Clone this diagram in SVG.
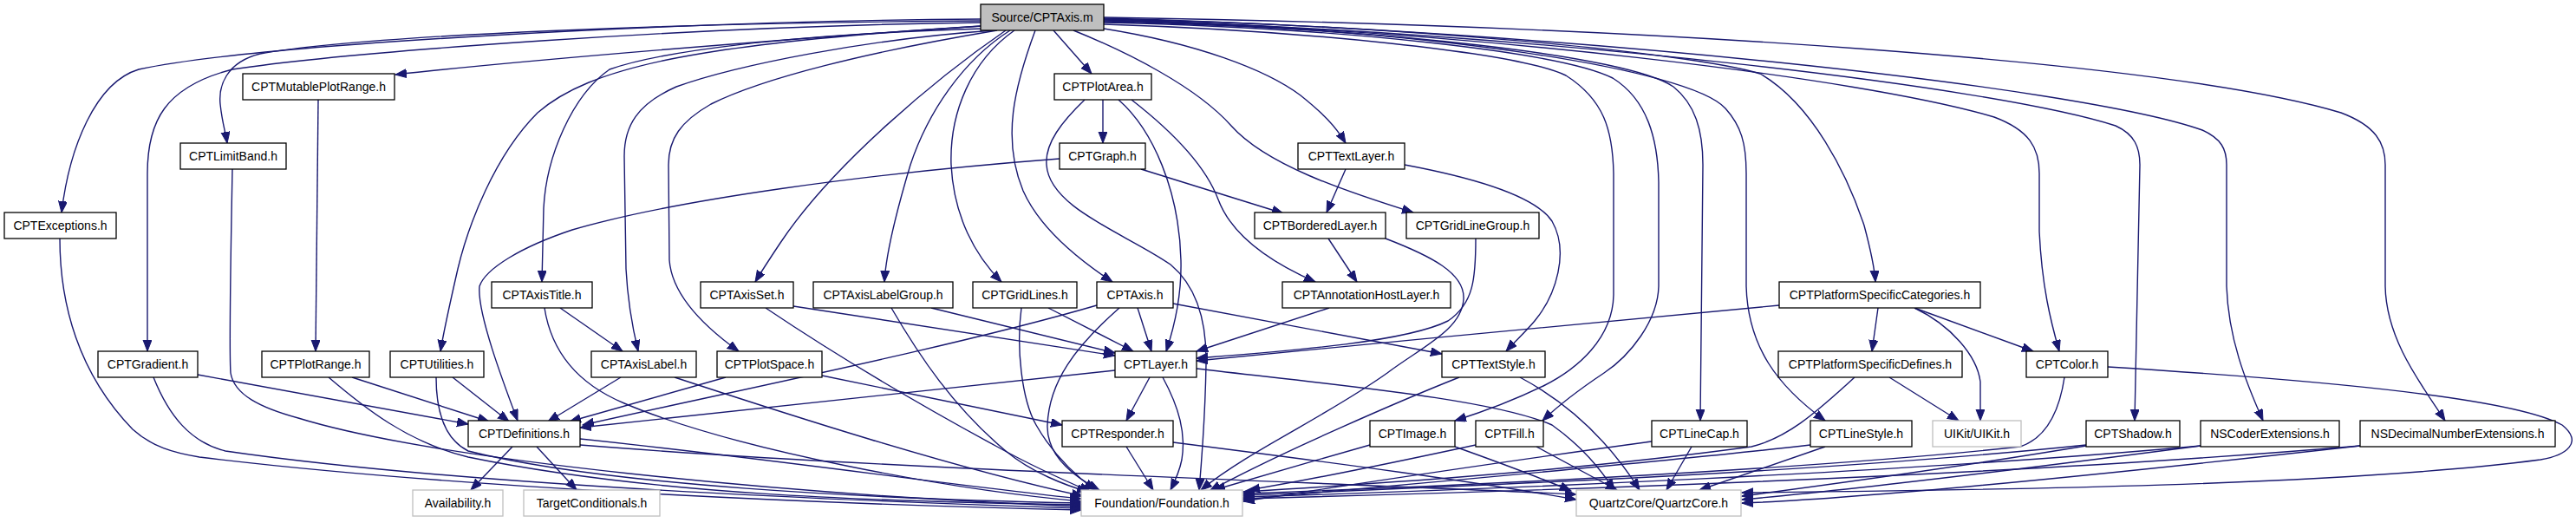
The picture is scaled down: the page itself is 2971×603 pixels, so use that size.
<svg xmlns="http://www.w3.org/2000/svg" width="2971" height="603" viewBox="0 0 2971 603">
<style>
.n rect{fill:#fff;stroke:#000;stroke-width:1.3}
.n.g rect{stroke:#bfbfbf}
.n.s rect{fill:#bfbfbf}
.n text{font-family:"Liberation Sans",Arial,sans-serif;font-size:14px;text-anchor:middle;fill:#000}
.e path{fill:none;stroke:#191970;stroke-width:1.4;marker-end:url(#ah)}
</style>
<defs>
<marker id="ah" markerUnits="userSpaceOnUse" markerWidth="14" markerHeight="11" refX="13" refY="5" orient="auto">
<path d="M0,0 L13,5 L0,10 z" fill="#191970" stroke="#191970" stroke-width="1"/>
</marker>
</defs>
<rect width="2971" height="603" fill="#fff"/>
<g class="e" id="edges">
<path d="M1131,22 C800,24 300,50 160,80 C110,95 80,170 71,245"/>
<path d="M1131,26 C800,30 400,60 268,80 C190,100 170,140 170,200 L170,405"/>
<path d="M1131,24 C800,26 420,40 300,62 C260,72 252,100 254,120 C256,140 260,152 262,165"/>
<path d="M1131,30 C900,45 600,70 456,86"/>
<path d="M1133,30 C800,50 680,78 620,130 C570,180 540,260 528,310 C520,345 512,380 508,405"/>
<path d="M1135,33 C900,40 760,60 703,80 C660,110 630,180 627,240 L625,325"/>
<path d="M1147,35 C1000,45 850,75 780,100 C735,120 720,145 720,180 L722,310 C724,350 730,380 736,405"/>
<path d="M1150,35 C1000,60 880,90 820,120 C785,140 771,160 771,190 L772,300 C775,340 810,375 852,405"/>
<path d="M1160,35 C1080,90 960,190 900,280 C890,295 880,310 871,325"/>
<path d="M1165,35 C1110,70 1070,130 1050,190 C1035,240 1022,290 1020,325"/>
<path d="M1170,35 C1120,70 1095,130 1097,190 C1100,250 1125,295 1155,325"/>
<path d="M1194,35 C1170,100 1155,160 1180,220 C1200,265 1245,300 1283,325"/>
<path d="M1215,35 L1259,85"/>
<path d="M1238,35 C1300,60 1380,100 1420,145 C1460,190 1550,220 1630,245"/>
<path d="M1273,33 C1380,50 1460,80 1500,110 C1525,130 1540,145 1552,165"/>
<path d="M1273,22 C1600,28 1950,60 2030,85 C2090,120 2130,200 2150,260 C2158,290 2162,310 2163,325"/>
<path d="M1273,23 C1700,35 2150,90 2300,135 C2340,150 2352,170 2352,200 L2352,267 C2355,330 2365,370 2375,405"/>
<path d="M1273,22 C1800,40 2300,100 2440,145 C2462,155 2468,170 2468,190 L2462,485"/>
<path d="M1273,21 C1800,35 2400,100 2540,150 C2562,160 2568,172 2568,190 L2568,330 C2570,390 2590,440 2610,485"/>
<path d="M1273,20 C1900,30 2500,70 2700,130 C2740,145 2751,165 2751,190 L2751,330 C2752,390 2790,440 2820,485"/>
<path d="M1273,28 C1500,35 1750,60 1806,87 C1850,115 1860,150 1861,200 L1861,340 C1860,390 1820,425 1780,445 C1745,462 1710,475 1678,485"/>
<path d="M1273,26 C1550,32 1800,60 1860,90 C1900,115 1912,160 1913,210 L1913,330 C1912,370 1880,410 1850,430 C1820,450 1800,465 1779,485"/>
<path d="M1273,25 C1600,32 1880,65 1930,100 C1955,120 1964,150 1964,190 L1961,485"/>
<path d="M1273,24 C1650,32 1950,80 1990,125 C2008,145 2014,165 2014,200 L2014,330 C2016,400 2050,445 2105,485"/>
<path d="M367,115 L364,405"/>
<path d="M268,195 C266,300 264,400 266,430 C270,455 300,470 344,482 C500,530 900,570 1247,584"/>
<path d="M69,275 C69,350 90,430 153,495 C175,515 200,522 230,527 C500,560 900,580 1247,588"/>
<path d="M228,432 L540,489"/>
<path d="M177,435 C195,480 220,510 260,520 C500,555 900,575 1247,586"/>
<path d="M406,435 L564,486"/>
<path d="M379,435 C420,470 470,510 540,527 C750,570 1000,578 1247,582"/>
<path d="M522,435 L587,486"/>
<path d="M503,435 C503,470 510,505 540,520 C700,560 1000,575 1247,580"/>
<path d="M1222,183 C1000,200 780,230 660,265 C600,285 560,310 553,330 C550,360 580,440 597,485"/>
<path d="M1316,195 L1480,246"/>
<path d="M1272,115 L1272,165"/>
<path d="M1290,115 C1330,150 1360,220 1362,300 C1363,340 1355,375 1345,405"/>
<path d="M1251,115 C1225,140 1205,165 1207,190 C1210,240 1300,270 1350,305 C1380,330 1392,370 1391,420 C1390,480 1386,530 1383,565"/>
<path d="M1305,115 C1350,150 1390,190 1405,230 C1420,270 1460,300 1517,325"/>
<path d="M1552,195 L1530,245"/>
<path d="M1620,190 C1700,205 1770,225 1790,255 C1810,290 1795,340 1770,370 C1760,382 1748,393 1737,405"/>
<path d="M1532,275 L1565,325"/>
<path d="M1598,275 C1650,295 1690,315 1688,345 C1686,380 1640,400 1600,430 C1530,480 1440,520 1385,565"/>
<path d="M1702,275 C1702,320 1700,350 1670,370 C1620,395 1480,405 1380,413"/>
<path d="M1533,355 L1380,405"/>
<path d="M2052,352 C1850,370 1600,395 1380,416"/>
<path d="M1312,355 L1328,405"/>
<path d="M1291,355 C1240,400 1210,440 1208,490 C1207,520 1230,545 1268,565"/>
<path d="M1353,350 L1663,408"/>
<path d="M1265,352 C1100,400 850,450 672,490"/>
<path d="M1209,355 L1307,405"/>
<path d="M1178,355 C1172,400 1178,460 1195,490 C1215,525 1240,548 1263,565"/>
<path d="M915,353 L1286,410"/>
<path d="M883,355 C950,400 1030,450 1150,515 C1195,540 1230,555 1258,567"/>
<path d="M1074,355 L1286,407"/>
<path d="M1028,355 C1060,410 1100,470 1160,520 C1190,545 1230,560 1255,567"/>
<path d="M646,355 L718,405"/>
<path d="M628,355 C635,400 660,440 720,465 C850,520 1100,565 1247,578"/>
<path d="M716,435 L632,486"/>
<path d="M778,435 C900,475 1100,540 1249,572"/>
<path d="M837,435 L657,486"/>
<path d="M948,433 L1225,490"/>
<path d="M1286,427 L669,493"/>
<path d="M1326,435 L1299,485"/>
<path d="M1341,435 C1360,470 1368,500 1363,530 C1360,545 1355,555 1350,565"/>
<path d="M1380,425 C1550,445 1720,460 1790,490 C1825,515 1845,540 1862,565"/>
<path d="M591,515 L543,565"/>
<path d="M619,515 L665,565"/>
<path d="M669,506 C900,530 1100,560 1247,575"/>
<path d="M669,513 C1000,540 1500,555 1818,570"/>
<path d="M1299,515 L1330,565"/>
<path d="M1353,510 C1550,535 1700,555 1818,576"/>
<path d="M1580,513 C1520,530 1450,550 1400,565"/>
<path d="M1678,515 C1720,530 1770,548 1812,566"/>
<path d="M1683,435 C1620,460 1480,520 1395,566"/>
<path d="M1753,435 C1800,460 1850,500 1891,565"/>
<path d="M1702,513 C1600,535 1500,555 1440,565"/>
<path d="M1772,515 L1865,565"/>
<path d="M1905,509 C1750,530 1550,560 1434,578"/>
<path d="M1951,515 L1922,565"/>
<path d="M2088,513 C1900,535 1600,560 1434,576"/>
<path d="M2105,515 L1960,565"/>
<path d="M2166,355 L2159,405"/>
<path d="M2208,355 C2250,375 2280,410 2284,440 L2284,485"/>
<path d="M2208,355 L2345,405"/>
<path d="M2179,435 L2259,485"/>
<path d="M2139,435 C2090,480 2060,505 2020,515 C1800,545 1550,560 1434,567"/>
<path d="M2381,435 C2375,475 2360,505 2330,515 C2100,540 1700,560 1434,569"/>
<path d="M2431,423 C2700,440 2900,460 2955,490 C2980,510 2960,525 2930,530 C2700,560 2300,565 2009,568"/>
<path d="M2406,513 C2100,545 1700,560 1434,571"/>
<path d="M2406,514 C2250,540 2100,560 2009,572"/>
<path d="M2538,514 C2200,545 1700,565 1434,573"/>
<path d="M2538,514 C2300,545 2100,568 2009,576"/>
<path d="M2722,514 C2300,550 1700,568 1434,575"/>
<path d="M2722,514 C2400,550 2150,575 2009,580"/>
</g>
<g class="n s" id="node-source"><rect x="1131" y="5" width="142" height="30"/><text x="1202" y="25">Source/CPTAxis.m</text></g>
<g class="n" id="node-mutableplotrange"><rect x="280" y="85" width="175" height="30"/><text x="367.5" y="105">CPTMutablePlotRange.h</text></g>
<g class="n" id="node-plotarea"><rect x="1216" y="85" width="112" height="30"/><text x="1272" y="105">CPTPlotArea.h</text></g>
<g class="n" id="node-limitband"><rect x="208" y="165" width="122" height="30"/><text x="269" y="185">CPTLimitBand.h</text></g>
<g class="n" id="node-graph"><rect x="1222" y="165" width="99" height="30"/><text x="1271.5" y="185">CPTGraph.h</text></g>
<g class="n" id="node-textlayer"><rect x="1497" y="165" width="123" height="30"/><text x="1558.5" y="185">CPTTextLayer.h</text></g>
<g class="n" id="node-exceptions"><rect x="5" y="245" width="129" height="30"/><text x="69.5" y="265">CPTExceptions.h</text></g>
<g class="n" id="node-borderedlayer"><rect x="1447" y="245" width="151" height="30"/><text x="1522.5" y="265">CPTBorderedLayer.h</text></g>
<g class="n" id="node-gridlinegroup"><rect x="1622" y="245" width="153" height="30"/><text x="1698.5" y="265">CPTGridLineGroup.h</text></g>
<g class="n" id="node-axistitle"><rect x="567" y="325" width="116" height="30"/><text x="625" y="345">CPTAxisTitle.h</text></g>
<g class="n" id="node-axisset"><rect x="808" y="325" width="107" height="30"/><text x="861.5" y="345">CPTAxisSet.h</text></g>
<g class="n" id="node-axislabelgroup"><rect x="938" y="325" width="161" height="30"/><text x="1018.5" y="345">CPTAxisLabelGroup.h</text></g>
<g class="n" id="node-gridlines"><rect x="1122" y="325" width="120" height="30"/><text x="1182" y="345">CPTGridLines.h</text></g>
<g class="n" id="node-axis"><rect x="1265" y="325" width="88" height="30"/><text x="1309" y="345">CPTAxis.h</text></g>
<g class="n" id="node-annotationhostlayer"><rect x="1479" y="325" width="194" height="30"/><text x="1576" y="345">CPTAnnotationHostLayer.h</text></g>
<g class="n" id="node-pscategories"><rect x="2052" y="325" width="232" height="30"/><text x="2168" y="345">CPTPlatformSpecificCategories.h</text></g>
<g class="n" id="node-gradient"><rect x="113" y="405" width="115" height="30"/><text x="170.5" y="425">CPTGradient.h</text></g>
<g class="n" id="node-plotrange"><rect x="302" y="405" width="124" height="30"/><text x="364" y="425">CPTPlotRange.h</text></g>
<g class="n" id="node-utilities"><rect x="450" y="405" width="108" height="30"/><text x="504" y="425">CPTUtilities.h</text></g>
<g class="n" id="node-axislabel"><rect x="682" y="405" width="121" height="30"/><text x="742.5" y="425">CPTAxisLabel.h</text></g>
<g class="n" id="node-plotspace"><rect x="827" y="405" width="121" height="30"/><text x="887.5" y="425">CPTPlotSpace.h</text></g>
<g class="n" id="node-layer"><rect x="1286" y="405" width="94" height="30"/><text x="1333" y="425">CPTLayer.h</text></g>
<g class="n" id="node-textstyle"><rect x="1663" y="405" width="119" height="30"/><text x="1722.5" y="425">CPTTextStyle.h</text></g>
<g class="n" id="node-psdefines"><rect x="2051" y="405" width="212" height="30"/><text x="2157" y="425">CPTPlatformSpecificDefines.h</text></g>
<g class="n" id="node-color"><rect x="2337" y="405" width="94" height="30"/><text x="2384" y="425">CPTColor.h</text></g>
<g class="n" id="node-definitions"><rect x="540" y="485" width="129" height="30"/><text x="604.5" y="505">CPTDefinitions.h</text></g>
<g class="n" id="node-responder"><rect x="1225" y="485" width="128" height="30"/><text x="1289" y="505">CPTResponder.h</text></g>
<g class="n" id="node-image"><rect x="1580" y="485" width="98" height="30"/><text x="1629" y="505">CPTImage.h</text></g>
<g class="n" id="node-fill"><rect x="1702" y="485" width="78" height="30"/><text x="1741" y="505">CPTFill.h</text></g>
<g class="n" id="node-linecap"><rect x="1905" y="485" width="110" height="30"/><text x="1960" y="505">CPTLineCap.h</text></g>
<g class="n" id="node-linestyle"><rect x="2088" y="485" width="117" height="30"/><text x="2146.5" y="505">CPTLineStyle.h</text></g>
<g class="n g" id="node-uikit"><rect x="2229" y="485" width="102" height="30"/><text x="2280" y="505">UIKit/UIKit.h</text></g>
<g class="n" id="node-shadow"><rect x="2406" y="485" width="108" height="30"/><text x="2460" y="505">CPTShadow.h</text></g>
<g class="n" id="node-nscoder"><rect x="2538" y="485" width="160" height="30"/><text x="2618" y="505">NSCoderExtensions.h</text></g>
<g class="n" id="node-nsdecimal"><rect x="2722" y="485" width="225" height="30"/><text x="2834.5" y="505">NSDecimalNumberExtensions.h</text></g>
<g class="n g" id="node-availability"><rect x="476" y="565" width="104" height="30"/><text x="528" y="585">Availability.h</text></g>
<g class="n g" id="node-targetconditionals"><rect x="604" y="565" width="157" height="30"/><text x="682.5" y="585">TargetConditionals.h</text></g>
<g class="n g" id="node-foundation"><rect x="1247" y="565" width="186" height="30"/><text x="1340" y="585">Foundation/Foundation.h</text></g>
<g class="n g" id="node-quartzcore"><rect x="1818" y="565" width="190" height="30"/><text x="1913" y="585">QuartzCore/QuartzCore.h</text></g>
</svg>
